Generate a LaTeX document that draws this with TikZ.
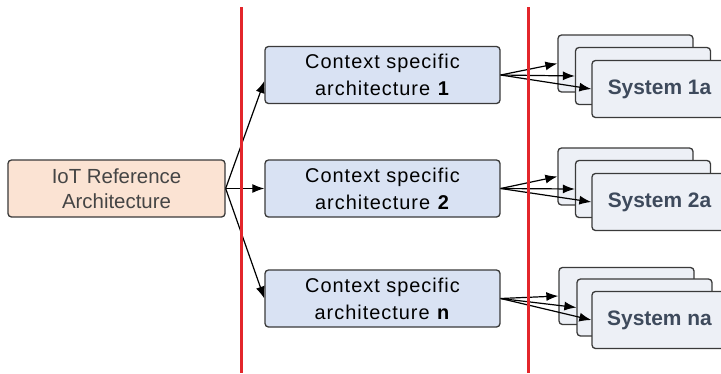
\documentclass[tikz,border=0pt]{standalone}
\usepackage{fontspec}
\setmainfont{Liberation Sans}
\usetikzlibrary{arrows.meta}
\definecolor{peach}{HTML}{FBE3D3}
\definecolor{ctxblue}{HTML}{D9E2F3}
\definecolor{sysfill}{HTML}{EDF0F6}
\definecolor{edge}{HTML}{3A3A3A}
\definecolor{divider}{HTML}{E3262B}
\definecolor{systext}{HTML}{3E4A5C}
\definecolor{reftext}{HTML}{454545}
\tikzset{
  box/.style={draw=edge, line width=1.3bp, rounded corners=3.5bp, inner sep=0pt, align=center},
  refbox/.style={box, fill=peach, minimum width=217bp, minimum height=57bp,
    font=\fontsize{20.5}{25}\selectfont, text=reftext},
  ctxbox/.style={box, fill=ctxblue, minimum width=235bp, minimum height=57bp,
    font=\fontsize{20}{27}\selectfont\addfontfeature{LetterSpace=5}, text=black},
  sysbox/.style={box, fill=sysfill, minimum width=135bp, minimum height=57bp,
    font=\fontsize{21}{24}\selectfont\bfseries, text=systext},
  link/.style={draw=black, line width=1.2bp, -{Latex[length=12bp,width=9bp]}},
  divline/.style={draw=divider, line width=3bp}
}
\begin{document}
\begin{tikzpicture}[x=1bp, y=-1bp]
  \useasboundingbox (0,0) rectangle (721,373);
  \clip (0,0) rectangle (721,373);

  % source architecture
  \node[refbox] (iot) at (116.5,188.5) {IoT Reference\\Architecture};

  % context specific architectures
  \node[ctxbox] (c1) at (382.5,75)    {Context specific\\architecture \textbf{1}};
  \node[ctxbox] (c2) at (382.5,188.5) {Context specific\\architecture \textbf{2}};
  \node[ctxbox] (c3) at (382.5,298.5) {Context specific\\architecture \textbf{n}};

  % system stacks
  \node[sysbox] (b1) at (625.5,63.5) {};
  \node[sysbox] (m1) at (643,76) {};
  \node[sysbox] (f1) at (659.5,89) {System 1a};

  \node[sysbox] (b2) at (625.5,176.5) {};
  \node[sysbox] (m2) at (643,189) {};
  \node[sysbox] (f2) at (659.5,202) {System 2a};

  \node[sysbox] (b3) at (626.5,296) {};
  \node[sysbox] (m3) at (644.5,307.5) {};
  \node[sysbox] (f3) at (659.5,320) {System na};

  % derivation arrows
  \draw[link] (iot.east) -- ([yshift=-6bp]c1.west);
  \draw[link] (iot.east) -- (c2.west);
  \draw[link] (iot.east) -- (c3.west);

  \foreach \i in {1,2,3}{
    \draw[link] (c\i.east) -- (b\i.west);
    \draw[link] (c\i.east) -- (m\i.west);
    \draw[link] (c\i.east) -- (f\i.west);
  }

  % layer dividers
  \coordinate (d1t) at (241,7);
  \coordinate (d1b) at (241,373);
  \coordinate (d2t) at (528,7);
  \coordinate (d2b) at (528,373);
  \draw[divline] (d1t) -- (d1b);
  \draw[divline] (d2t) -- (d2b);
\end{tikzpicture}
\end{document}
